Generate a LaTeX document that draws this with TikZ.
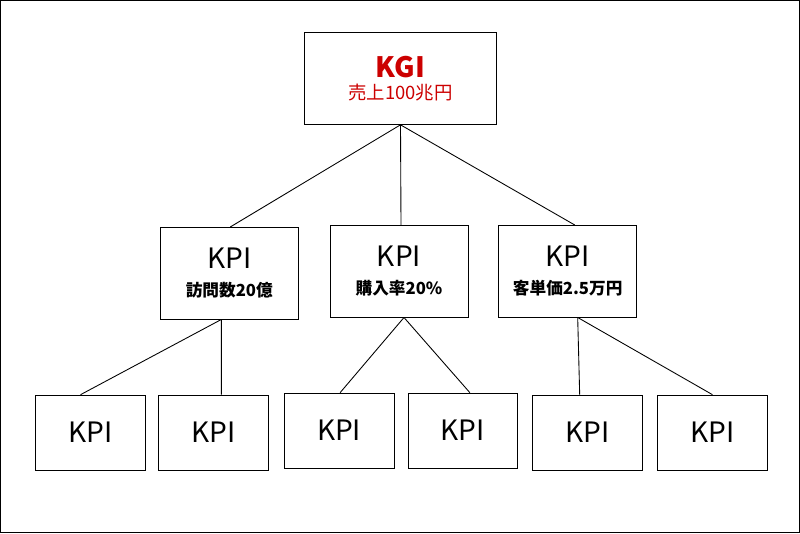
\documentclass[tikz,border=0pt]{standalone}
\usepackage{fontspec}
\setmainfont{Noto Sans CJK JP}
\begin{document}
\begin{tikzpicture}[x=0.02cm,y=-0.02cm]
  \tikzset{
    kgibox/.style={draw, rectangle, fill=white, minimum width=3.86cm, minimum height=1.84cm, align=center, text=red!80!black},
    midbox/.style={draw, rectangle, fill=white, minimum width=2.76cm, minimum height=1.84cm, align=center},
    leafbox/.style={draw, rectangle, fill=white, minimum width=2.2cm, minimum height=1.5cm, font=\fontsize{16}{19}\selectfont},
    link/.style={draw, line width=0.5pt},
  }
  \draw[line width=0.8pt] (0,0) rectangle (800,533);
  \node [kgibox] (kgi) at (400.5,78) {{\fontsize{16}{19}\selectfont\bfseries KGI}\\[1pt]{\fontsize{10.5}{12}\selectfont 売上100兆円}};
  \node [midbox] (kpi1) at (229,273) {{\fontsize{16}{19}\selectfont KPI}\\[4pt]{\fontsize{9.5}{11}\selectfont\bfseries 訪問数20億}};
  \node [midbox] (kpi2) at (399,271) {{\fontsize{16}{19}\selectfont KPI}\\[4pt]{\fontsize{9.5}{11}\selectfont\bfseries 購入率20\%}};
  \node [midbox] (kpi3) at (568,271) {{\fontsize{16}{19}\selectfont KPI}\\[4pt]{\fontsize{9.5}{11}\selectfont\bfseries 客単価2.5万円}};
  \node [leafbox] (leaf1) at (90,432.5) {KPI};
  \node [leafbox] (leaf2) at (213,432.5) {KPI};
  \node [leafbox] (leaf3) at (339,430.5) {KPI};
  \node [leafbox] (leaf4) at (463,430.5) {KPI};
  \node [leafbox] (leaf5) at (588,432.5) {KPI};
  \node [leafbox] (leaf6) at (713,432.5) {KPI};

  \path [link] (kgi.south) -- ([xshift=0.02cm]kpi1.north);
  \path [link] (kgi.south) -- ([xshift=0.04cm]kpi2.north);
  \path [link] (kgi.south) -- ([xshift=0.14cm]kpi3.north);
  \path [link] ([xshift=-0.16cm]kpi1.south) -- ([xshift=-0.2cm]leaf1.north);
  \path [link] ([xshift=-0.16cm]kpi1.south) -- ([xshift=0.16cm]leaf2.north);
  \path [link] ([xshift=0.1cm]kpi2.south) -- ([xshift=0.02cm]leaf3.north);
  \path [link] ([xshift=0.1cm]kpi2.south) -- ([xshift=0.14cm]leaf4.north);
  \path [link] ([xshift=0.2cm]kpi3.south) -- ([xshift=-0.16cm]leaf5.north);
  \path [link] ([xshift=0.2cm]kpi3.south) -- (leaf6.north);
\end{tikzpicture}
\end{document}
